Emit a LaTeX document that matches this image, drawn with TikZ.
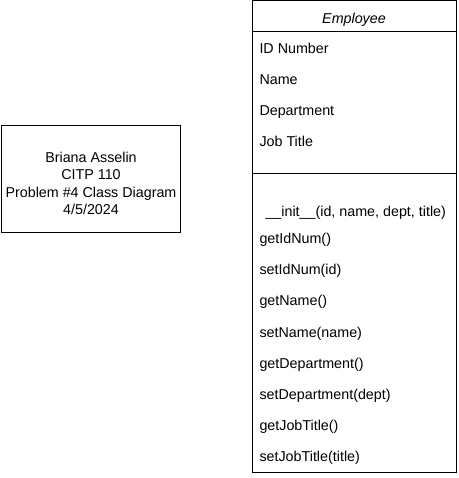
\documentclass[tikz,border=0pt]{standalone}
\usepackage{fontspec}
\setmainfont{Liberation Sans}
\usepackage{tikz}
\usetikzlibrary{positioning}

\begin{document}
\begin{tikzpicture}[x=1pt, y=-1pt, line width=1pt,
    txt/.style={anchor=base west, inner sep=0pt, font=\fontsize{14.3}{17.5}\selectfont}]
    \useasboundingbox (0,0) rectangle (458,478);
    \def\info{(1.5,125.5) rectangle (180.5,232.5)};
    \def\cls{(252.5,0.5) rectangle (456,472)};
    \draw\info;
    \node[align=center, inner sep=0pt, font=\fontsize{14.3}{17.5}\selectfont] (notes) at (91,183.5)
        {Briana Asselin\\CITP 110\\Problem \#4 Class Diagram\\4/5/2024};
    \draw\cls;
    \coordinate (h1) at (252.5,31.5);
    \coordinate (h2) at (456,31.5);
    \draw (h1) -- (h2);
    \coordinate (s1) at (252.5,174);
    \coordinate (s2) at (456,174);
    \draw (s1) -- (s2);
    \node[txt, anchor=base] (emp) at (354,23.3) {\itshape Employee};
    \node[txt] (a1) at (259,53.3) {ID Number};
    \node[txt] (a2) at (259,84.5) {Name};
    \node[txt] (a3) at (259,115.7) {Department};
    \node[txt] (a4) at (259,146.9) {Job Title};
    \node[txt] (m1) at (265,216.5) {\_\_init\_\_(id, name, dept, title)};
    \node[txt] (m2) at (259,243.5) {getIdNum()};
    \node[txt] (m3) at (259,274.7) {setIdNum(id)};
    \node[txt] (m4) at (259,305.9) {getName()};
    \node[txt] (m5) at (259,337.1) {setName(name)};
    \node[txt] (m6) at (259,368.3) {getDepartment()};
    \node[txt] (m7) at (259,399.3) {setDepartment(dept)};
    \node[txt] (m8) at (259,430.5) {getJobTitle()};
    \node[txt] (m9) at (259,461.7) {setJobTitle(title)};
\end{tikzpicture}
\end{document}
